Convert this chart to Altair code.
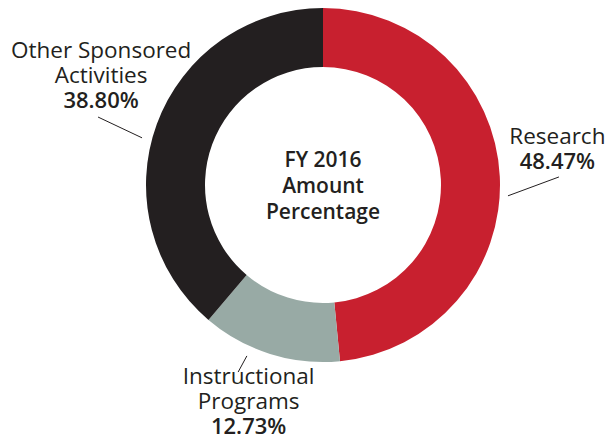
import altair as alt
import numpy as np
import pandas as pd

# ---- data ----
categories = ["Research", "Instructional Programs", "Other Sponsored Activities"]
percentages = [48.47, 12.73, 38.80]
name_lines = [["Research"], ["Instructional", "Programs"], ["Other Sponsored", "Activities"]]
pct_labels = ["48.47%", "12.73%", "38.80%"]
center_title = ["FY 2016", "Amount", "Percentage"]

# ---- style / layout ----
colors = ["#C8202F", "#98AAA5", "#231F20"]
TEXT = "#231F20"
FONT = "Open Sans"
W, H = 598, 432
CX, CY = 315, 177          # donut centre inside the view
R_OUT, R_IN = 177, 118
LINE_STEP = 25
# label anchor / leader line placement relative to each slice's mid angle
layout = {
    "Research": dict(lr=237.0, la=-5.8, r1=185.3, a1=6.1, r2=236.1, a2=0.8),
    "Instructional Programs": dict(lr=229.5, la=1.5, r1=187.1, a1=6.6, r2=205.4, a2=7.0),
    "Other Sponsored Activities": dict(lr=247.0, la=5.9, r1=187.0, a1=-5.55, r2=235.0, a2=-3.35),
}

df = pd.DataFrame({"cat": categories, "pct": percentages, "idx": range(len(categories))})
cum = np.cumsum(percentages)
mid = (cum - np.array(percentages) / 2) / 100 * 360


def polar(r, deg):
    a = np.radians(deg)
    return r * np.sin(a), r * np.cos(a)


text_rows, line_rows = [], []
for i, cat in enumerate(categories):
    L = layout[cat]
    ax, ay = polar(L["lr"], mid[i] + L["la"])
    lines = [(t, "normal") for t in name_lines[i]] + [(pct_labels[i], "bold")]
    n = len(lines)
    for j, (t, w) in enumerate(lines):
        text_rows.append({"t": t, "w": w, "x": ax, "y": ay - (j - (n - 1) / 2) * LINE_STEP})
    x1, y1 = polar(L["r1"], mid[i] + L["a1"])
    x2, y2 = polar(L["r2"], mid[i] + L["a2"])
    line_rows.append({"x": x1, "y": y1, "x2": x2, "y2": y2})

for j, t in enumerate(center_title):
    text_rows.append({"t": t, "w": "title", "x": 0.0, "y": -2 - (j - 1) * 26})

tdf = pd.DataFrame(text_rows)
ldf = pd.DataFrame(line_rows)

xs = alt.Scale(domain=[-CX, W - CX], nice=False, zero=False)
ys = alt.Scale(domain=[-(H - CY), CY], nice=False, zero=False)

arc = alt.Chart(df).mark_arc(outerRadius=R_OUT, innerRadius=R_IN).encode(
    theta=alt.Theta("pct:Q", stack=True),
    order=alt.Order("idx:Q"),
    color=alt.Color("cat:N", scale=alt.Scale(domain=categories, range=colors), legend=None),
    x=alt.X(datum=0, scale=xs, axis=None),
    y=alt.Y(datum=0, scale=ys, axis=None),
)

rules = alt.Chart(ldf).mark_rule(color=TEXT, strokeWidth=1).encode(
    x=alt.X("x:Q", scale=xs, axis=None),
    y=alt.Y("y:Q", scale=ys, axis=None),
    x2="x2:Q",
    y2="y2:Q",
)


def text_layer(kind, weight, size):
    return alt.Chart(tdf).transform_filter(alt.datum.w == kind).mark_text(
        font=FONT, fontSize=size, fontWeight=weight, color=TEXT,
        align="center", baseline="middle",
    ).encode(
        x=alt.X("x:Q", scale=xs, axis=None),
        y=alt.Y("y:Q", scale=ys, axis=None),
        text="t:N",
    )


chart = alt.layer(
    arc, rules,
    text_layer("normal", "normal", 22.5),
    text_layer("bold", 600, 22),
    text_layer("title", 600, 21),
).properties(
    width=W, height=H, padding=0, autosize=alt.AutoSizeParams(type="none")
).configure_view(stroke=None)

chart.save("out.html", embed_options={"renderer": "svg", "actions": False})
